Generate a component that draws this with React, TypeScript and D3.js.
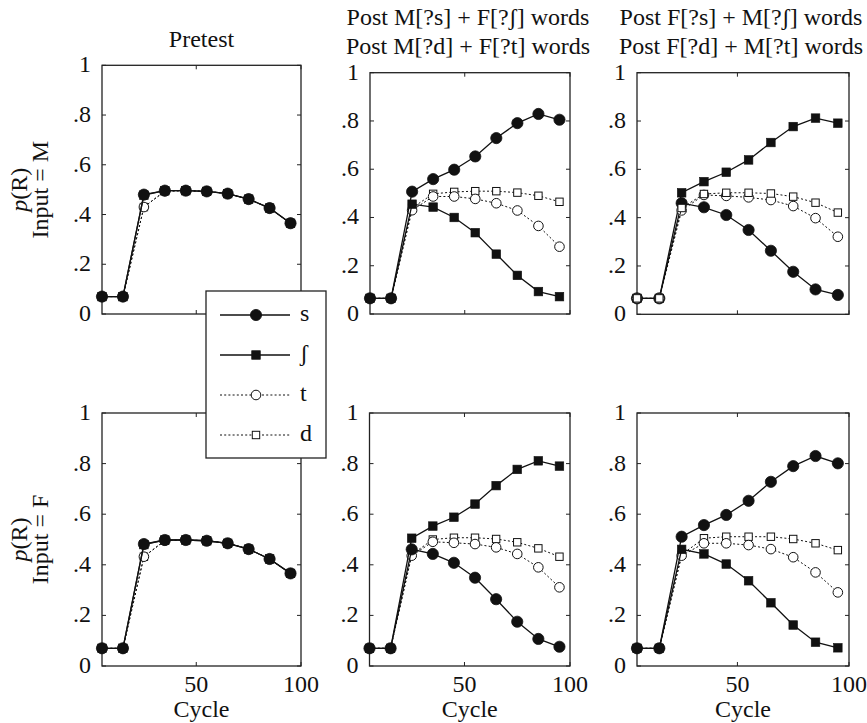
import React from 'react';
import * as d3 from 'd3';

const cycles = [5, 15, 25, 35, 45, 55, 65, 75, 85, 95];
const yTicks = [0, 0.2, 0.4, 0.6, 0.8, 1];
const yTickLabels = ['0', '.2', '.4', '.6', '.8', '1'];
const xTicks = [50, 100];

const seriesNames = ['s', 'ʃ', 't', 'd'];

// Input = M
const preM_s = [0.07, 0.07, 0.48, 0.496, 0.496, 0.493, 0.484, 0.462, 0.426, 0.365];
const preM_sh = [0.07, 0.07, 0.478, 0.496, 0.496, 0.493, 0.484, 0.462, 0.426, 0.365];
const preM_t = [0.07, 0.07, 0.43, 0.494, 0.496, 0.493, 0.484, 0.462, 0.426, 0.365];
const preM_d = [0.07, 0.07, 0.43, 0.494, 0.496, 0.493, 0.484, 0.462, 0.426, 0.365];

const postAM_s = [0.065, 0.065, 0.507, 0.559, 0.598, 0.653, 0.729, 0.791, 0.829, 0.805];
const postAM_sh = [0.065, 0.065, 0.455, 0.443, 0.4, 0.337, 0.248, 0.16, 0.093, 0.072];
const postAM_t = [0.065, 0.065, 0.43, 0.487, 0.487, 0.477, 0.459, 0.429, 0.365, 0.279];
const postAM_d = [0.065, 0.065, 0.44, 0.498, 0.506, 0.509, 0.509, 0.503, 0.49, 0.465];

const postBM_s = [0.066, 0.066, 0.46, 0.443, 0.411, 0.349, 0.263, 0.176, 0.103, 0.08];
const postBM_sh = [0.066, 0.066, 0.503, 0.549, 0.588, 0.639, 0.711, 0.777, 0.812, 0.791];
const postBM_t = [0.066, 0.066, 0.43, 0.494, 0.49, 0.484, 0.473, 0.448, 0.398, 0.321];
const postBM_d = [0.066, 0.066, 0.44, 0.498, 0.503, 0.503, 0.5, 0.487, 0.462, 0.421];

// Input = F
const preF_s = [0.07, 0.07, 0.482, 0.498, 0.498, 0.495, 0.485, 0.462, 0.423, 0.366];
const preF_sh = [0.07, 0.07, 0.48, 0.498, 0.498, 0.495, 0.485, 0.462, 0.423, 0.366];
const preF_t = [0.07, 0.07, 0.432, 0.496, 0.498, 0.495, 0.485, 0.462, 0.423, 0.366];
const preF_d = [0.07, 0.07, 0.432, 0.496, 0.498, 0.495, 0.485, 0.462, 0.423, 0.366];

const postAF_s = [0.07, 0.07, 0.461, 0.443, 0.408, 0.349, 0.264, 0.175, 0.107, 0.076];
const postAF_sh = [0.07, 0.07, 0.505, 0.553, 0.588, 0.64, 0.713, 0.777, 0.811, 0.79];
const postAF_t = [0.07, 0.07, 0.436, 0.491, 0.487, 0.482, 0.469, 0.443, 0.39, 0.311];
const postAF_d = [0.07, 0.07, 0.44, 0.5, 0.507, 0.507, 0.502, 0.489, 0.465, 0.432];

const postBF_s = [0.07, 0.07, 0.511, 0.557, 0.597, 0.653, 0.728, 0.79, 0.83, 0.801];
const postBF_sh = [0.07, 0.07, 0.461, 0.443, 0.403, 0.337, 0.25, 0.162, 0.094, 0.072];
const postBF_t = [0.07, 0.07, 0.436, 0.485, 0.485, 0.478, 0.462, 0.43, 0.37, 0.291];
const postBF_d = [0.07, 0.07, 0.44, 0.505, 0.511, 0.511, 0.511, 0.502, 0.485, 0.458];

const FONT = "'Liberation Serif', 'DejaVu Serif', serif";
const FS = 24;

const styles = {
  s: { dash: null, marker: 'circle' },
  'ʃ': { dash: null, marker: 'square' },
  t: { dash: '2,2.2', marker: 'circle' },
  d: { dash: '2,2.2', marker: 'square' },
};

const panels = [
  { x0: 102, x1: 301, y0: 314, y1: 65.3, data: [preM_s, preM_sh, preM_t, preM_d], order: [3, 2, 1, 0], title: ['Pretest'], ylab: 'M', xlab: false },
  { x0: 370, x1: 570, y0: 314, y1: 72.7, data: [postAM_s, postAM_sh, postAM_t, postAM_d], order: [3, 2, 1, 0], title: ['Post M[?s] + F[?ʃ] words', 'Post M[?d] + F[?t] words'], xlab: false },
  { x0: 637, x1: 849, y0: 314.3, y1: 72.7, data: [postBM_s, postBM_sh, postBM_t, postBM_d], order: [0, 1, 2, 3], title: ['Post F[?s] + M[?ʃ] words', 'Post F[?d] + M[?t] words'], xlab: false },
  { x0: 102, x1: 301, y0: 666, y1: 413, data: [preF_s, preF_sh, preF_t, preF_d], order: [3, 2, 1, 0], title: null, ylab: 'F', xlab: true },
  { x0: 369.5, x1: 570, y0: 666, y1: 413, data: [postAF_s, postAF_sh, postAF_t, postAF_d], order: [3, 2, 1, 0], title: null, xlab: true },
  { x0: 637, x1: 849, y0: 666, y1: 413, data: [postBF_s, postBF_sh, postBF_t, postBF_d], order: [3, 2, 1, 0], title: null, xlab: true },
];

function Marker({ kind, cx, cy, filled }) {
  if (kind === 'circle') {
    return filled
      ? <circle cx={cx} cy={cy} r={5.6} fill="#111" stroke="#111" strokeWidth={0.8} />
      : <circle cx={cx} cy={cy} r={4.8} fill="#fff" stroke="#111" strokeWidth={1} />;
  }
  const s = filled ? 8.6 : 7.4;
  return (
    <rect x={cx - s / 2} y={cy - s / 2} width={s} height={s}
      fill={filled ? '#111' : '#fff'} stroke="#111" strokeWidth={filled ? 0.6 : 1} />
  );
}

function Panel({ p }) {
  const x = d3.scaleLinear().domain([5, 100]).range([p.x0, p.x1]);
  const y = d3.scaleLinear().domain([0, 1]).range([p.y0, p.y1]);
  const line = d3.line<number>().x((_, i) => x(cycles[i])).y(d => y(d));
  const tk = 4;
  const cx = (p.x0 + p.x1) / 2;
  const cy = (p.y0 + p.y1) / 2;

  return (
    <g>
      {p.title && p.title.length === 1 && (
        <text x={cx} y={47} textAnchor="middle" fontSize={FS}>{p.title[0]}</text>
      )}
      {p.title && p.title.length === 2 && p.title.map((t, i) => (
        <text key={i} x={cx - 2} y={25 + i * 29} textAnchor="middle" fontSize={FS}>{t}</text>
      ))}

      {yTicks.map((t, i) => (
        <g key={t}>
          <line x1={p.x0} x2={p.x0 + tk} y1={y(t)} y2={y(t)} stroke="#222" />
          <line x1={p.x1} x2={p.x1 - tk} y1={y(t)} y2={y(t)} stroke="#222" />
          <text x={p.x0 - 11} y={y(t) + 7} textAnchor="end" fontSize={FS}>{yTickLabels[i]}</text>
        </g>
      ))}
      {xTicks.map(t => (
        <g key={t}>
          <line x1={x(t)} x2={x(t)} y1={p.y0} y2={p.y0 - tk} stroke="#222" />
          <line x1={x(t)} x2={x(t)} y1={p.y1} y2={p.y1 + tk} stroke="#222" />
          {p.xlab && (
            <text x={x(t)} y={p.y0 + 26} textAnchor="middle" fontSize={FS}>{t}</text>
          )}
        </g>
      ))}
      {p.xlab && (
        <text x={cx} y={p.y0 + 51} textAnchor="middle" fontSize={FS}>Cycle</text>
      )}
      {p.ylab && (
        <g>
          <text transform={`translate(27, ${cy}) rotate(-90)`} textAnchor="middle" fontSize={FS}>
            <tspan fontStyle="italic">p</tspan>(R)
          </text>
          <text transform={`translate(48, ${cy}) rotate(-90)`} textAnchor="middle" fontSize={FS}>
            {`Input = ${p.ylab}`}
          </text>
        </g>
      )}

      <rect x={p.x0} y={p.y1} width={p.x1 - p.x0} height={p.y0 - p.y1}
        fill="none" stroke="#222" strokeWidth={1.3} />

      {p.order.map(si => {
        const st = styles[seriesNames[si]];
        const vals = p.data[si];
        return (
          <g key={si}>
            <path d={line(vals)} fill="none" stroke="#111"
              strokeWidth={st.dash ? 1 : 1.3} strokeDasharray={st.dash || undefined} />
            {vals.map((v, i) => (
              <Marker key={i} kind={st.marker} cx={x(cycles[i])} cy={y(v)} filled={!st.dash} />
            ))}
          </g>
        );
      })}
    </g>
  );
}

function Legend() {
  const box = { x: 206, y: 291, w: 120, h: 167 };
  const row = d3.scalePoint().domain(seriesNames).range([box.y + 24, box.y + 144]);
  return (
    <g>
      <rect x={box.x} y={box.y} width={box.w} height={box.h} fill="#fff" stroke="#222" strokeWidth={1.3} />
      {seriesNames.map(n => {
        const st = styles[n];
        const yy = row(n);
        return (
          <g key={n}>
            <line x1={box.x + 14} x2={box.x + 84} y1={yy} y2={yy} stroke="#111"
              strokeWidth={st.dash ? 1 : 1.3} strokeDasharray={st.dash || undefined} />
            <Marker kind={st.marker} cx={box.x + 50} cy={yy} filled={!st.dash} />
            <text x={box.x + 94} y={yy + 6} fontSize={FS}>{n}</text>
          </g>
        );
      })}
    </g>
  );
}

export default function App() {
  return (
    <svg width={867} height={723}
      style={{ position: 'absolute', left: 0, top: 0, background: '#fff', fontFamily: FONT }}
      fill="#111">
      {panels.map((p, i) => <Panel key={i} p={p} />)}
      <Legend />
    </svg>
  );
}
